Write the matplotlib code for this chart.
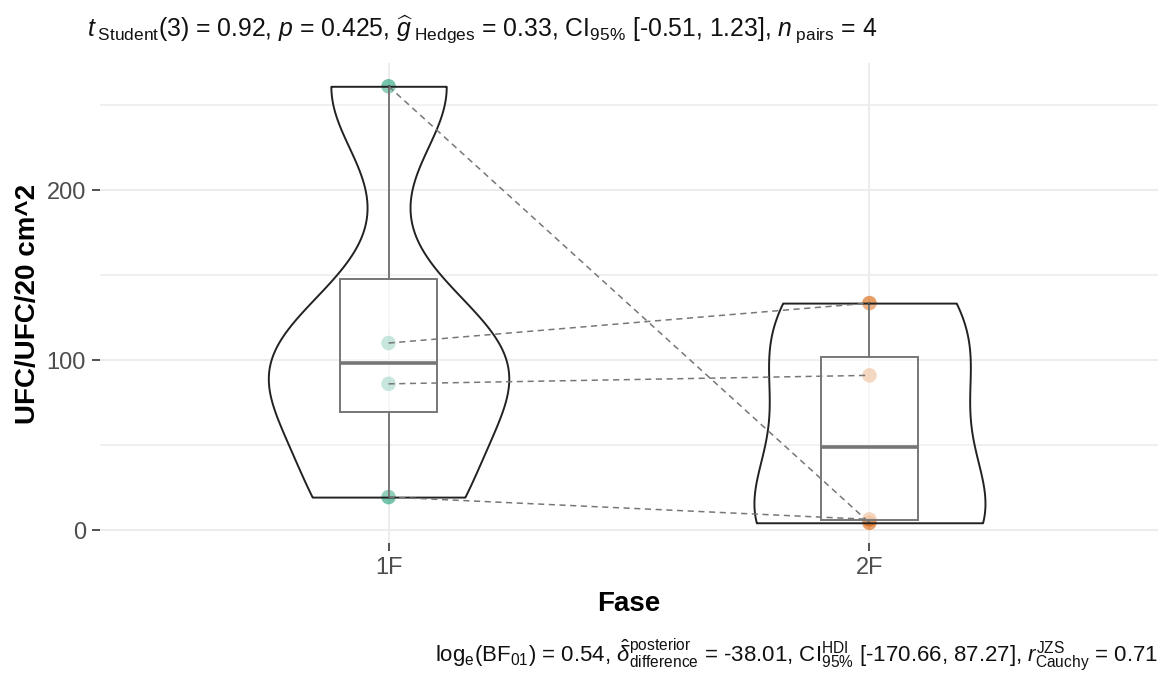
import numpy as np
import matplotlib
matplotlib.use("Agg")
import matplotlib.pyplot as plt

# fonts: Arial-like text and mathtext
plt.rcParams['font.family'] = ['Liberation Sans', 'DejaVu Sans']
plt.rcParams['mathtext.fontset'] = 'custom'
plt.rcParams['mathtext.rm'] = 'Liberation Sans'
plt.rcParams['mathtext.it'] = 'Liberation Sans:italic'
plt.rcParams['mathtext.bf'] = 'Liberation Sans:bold'

########
# DATA #
########

fase = ["1F", "2F"]
# paired observations (same order = same subject)
ufc_1f = [261.0, 110.0, 86.0, 19.4]
ufc_2f = [4.3, 133.5, 91.0, 6.3]
point_colors = ["#1B9E77", "#D95F02"]

y_ticks = [0, 100, 200]
y_minor = [50, 150, 250]

subtitle = (r"$t_{\;\mathrm{Student}}$(3) = 0.92, $p$ = 0.425, "
            r"$\widehat{g}_{\;\mathrm{Hedges}}$ = 0.33, CI$_{\mathrm{95\%}}$ [-0.51, 1.23], "
            r"$n_{\;\mathrm{pairs}}$ = 4")
caption = (r"log$_{\mathrm{e}}$(BF$_{\mathrm{01}}$) = 0.54, "
           r"$\hat{\delta}_{\mathrm{difference}}^{\mathrm{posterior}}$ = -38.01, "
           r"CI$_{\mathrm{95\%}}^{\mathrm{HDI}}$ [-170.66, 87.27], "
           r"$r_{\mathrm{Cauchy}}^{\mathrm{JZS}}$ = 0.71")


#############
# FUNCTIONS #
#############

# gaussian kernel density with R's nrd0 bandwidth, trimmed to the data range
def kde_nrd0(vals, n=512):
    vals = np.asarray(vals, dtype=float)
    sd = np.std(vals, ddof=1)
    q1, q3 = np.percentile(vals, [25, 75])
    lo = min(sd, (q3 - q1) / 1.34)
    bw = 0.9 * lo * len(vals) ** -0.2
    grid = np.linspace(vals.min(), vals.max(), n)
    z = (grid[:, None] - vals[None, :]) / bw
    dens = np.exp(-0.5 * z ** 2).sum(axis=1) / (len(vals) * bw * np.sqrt(2 * np.pi))
    return grid, dens


###########
# EXECUTE #
###########

W, H = 1164, 675
fig = plt.figure(figsize=(W / 100, H / 100), dpi=100)
ax = fig.add_axes([100 / W, 1 - 543 / H, 1058 / W, 480 / H])

groups = [ufc_1f, ufc_2f]
positions = [1, 2]

# points first, the half transparent box goes over them
for pos, vals, col in zip(positions, groups, point_colors):
    ax.scatter([pos] * len(vals), vals, s=110, color=col, alpha=0.6,
               edgecolors='none', zorder=2)

# boxplots
bp = ax.boxplot(groups, positions=positions, widths=0.2, whis=1.5,
                showfliers=False, showcaps=False, patch_artist=True,
                manage_ticks=False, zorder=3)
for b in bp['boxes']:
    b.set_facecolor((1, 1, 1, 0.5))
    b.set_edgecolor('#555555')
    b.set_linewidth(1.4)
for w in bp['whiskers']:
    w.set_color('#555555')
    w.set_linewidth(1.4)
for m in bp['medians']:
    m.set_color('#555555')
    m.set_linewidth(2.6)

# violins, scale = "area" -> widths relative to global max density
dens_all = [kde_nrd0(v) for v in groups]
maxd = max(d.max() for g, d in dens_all)
for pos, (grid, dens) in zip(positions, dens_all):
    half = dens / maxd * 0.25
    ax.fill_betweenx(grid, pos - half, pos + half, facecolor=(1, 1, 1, 0.2),
                     edgecolor='#222222', linewidth=1.4, zorder=4)

# paired dashed lines
for a, b in zip(ufc_1f, ufc_2f):
    ax.plot([1, 2], [a, b], color='#777777', linestyle=(0, (4, 3)),
            linewidth=1.1, zorder=5)

# axes look (ggplot-like minimal theme)
ax.set_xlim(0.4, 2.6)
ax.set_ylim(-7.6, 274.7)
ax.set_xticks(positions)
ax.set_xticklabels(fase)
ax.set_yticks(y_ticks)
ax.set_yticks(y_minor, minor=True)
ax.tick_params(axis='both', which='major', length=6, width=1.2, color='#333333',
               labelcolor='#4D4D4D', labelsize=17, pad=4)
ax.tick_params(axis='y', which='minor', length=0)
ax.grid(True, which='major', axis='both', color='#EBEBEB', linewidth=1.3, zorder=0)
ax.grid(True, which='minor', axis='y', color='#EBEBEB', linewidth=1.1, zorder=0)
ax.set_axisbelow(True)
for s in ax.spines.values():
    s.set_visible(False)

# labels
fig.text(629 / W, 1 - 604 / H, "Fase", ha='center', va='center',
         fontsize=20, fontweight='bold')
fig.text(28 / W, 1 - 304 / H, "UFC/UFC/20 cm^2", ha='center', va='center',
         rotation=90, fontsize=20, fontweight='bold')
fig.text(87 / W, 1 - 30 / H, subtitle, ha='left', va='center', fontsize=17.8,
         color='#111111')
fig.text(1158 / W, 1 - 655 / H, caption, ha='right', va='center', fontsize=16,
         color='#111111')

fig.savefig("out.png", dpi=100)
